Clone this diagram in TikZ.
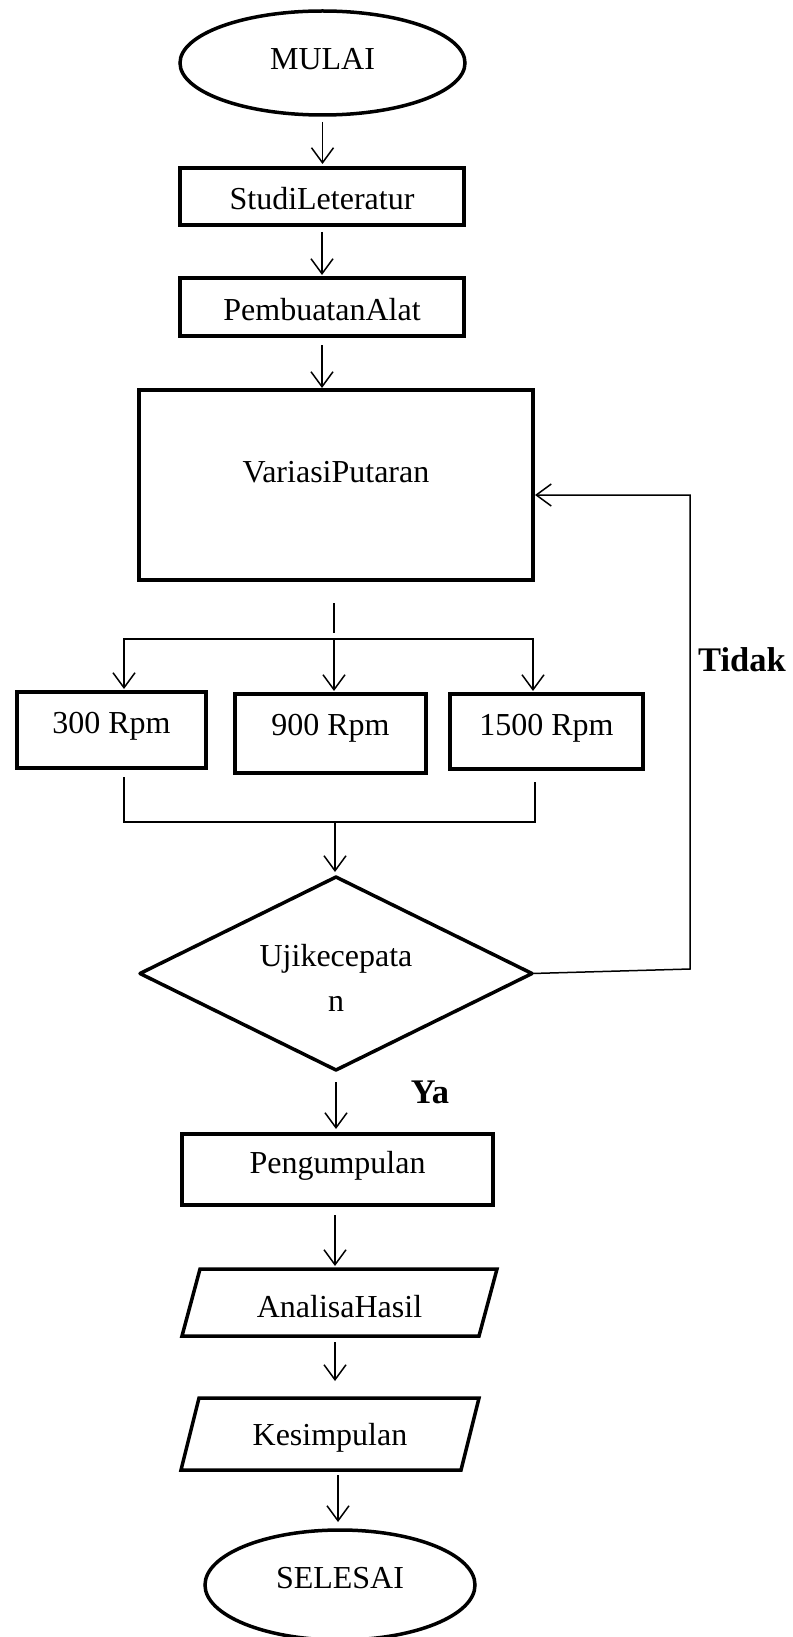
\documentclass[tikz,border=0pt]{standalone}
\usepackage{fontspec}
\setmainfont{Liberation Serif}
\usetikzlibrary{shapes.geometric,arrows.meta}
\begin{document}
\begin{tikzpicture}[x=1pt,y=-1pt,
  every node/.style={font=\fontsize{32pt}{45pt}\selectfont, inner sep=0pt, outer sep=0pt},
  flowbox/.style={draw, line width=3.5pt, rectangle, text height=22pt, text depth=2pt},
  term/.style={draw, line width=3.5pt, ellipse, text height=22pt, text depth=2pt},
  dec/.style={draw, line width=3.5pt, diamond, aspect=2, line join=round},
  iobox/.style={rectangle, text height=22pt, text depth=2pt},
  para/.style={line width=3.5pt},
  conn/.style={line width=1.5pt},
  arr/.style={conn, -{Straight Barb[length=15pt,width=22pt]}},
  arrtwo/.style={conn, {Straight Barb[length=15pt,width=22pt]}-{Straight Barb[length=15pt,width=22pt]}},
  lbl/.style={font=\fontsize{34.5pt}{40pt}\selectfont\bfseries}
]
\useasboundingbox (0,0) rectangle (792,1637);

% shapes
\node[term, minimum width=285pt, minimum height=104pt, text depth=8pt] (mulai) at (322.5,63) {MULAI};
\node[flowbox, minimum width=284pt, minimum height=57pt, text height=29pt] (studi) at (322,196.5) {StudiLeteratur};
\node[flowbox, minimum width=284pt, minimum height=58pt, text height=28pt] (buat) at (322,307) {PembuatanAlat};
\node[flowbox, minimum width=394pt, minimum height=190pt, text depth=28pt] (variasi) at (336,485) {VariasiPutaran};
\node[flowbox, minimum width=189pt, minimum height=76pt, text depth=16pt] (r300) at (111.5,730) {300 Rpm};
\node[flowbox, minimum width=191pt, minimum height=79pt, text depth=19pt] (r900) at (330.5,733.5) {900 Rpm};
\node[flowbox, minimum width=193pt, minimum height=75pt, text depth=15pt] (r1500) at (546.5,731.5) {1500 Rpm};
\node[dec, minimum width=392pt, minimum height=193pt] (uji) at (336,973.5) {};
\node[align=center] (ujitext) at ([yshift=-4pt]uji.center) {Ujikecepata\\n};
\node[flowbox, minimum width=311pt, minimum height=71pt, text depth=14pt] (kumpul) at (337.5,1169.5) {Pengumpulan};
\node[iobox, minimum width=297pt, minimum height=67pt, text height=31pt] (analisa) at (339.5,1302.5) {AnalisaHasil};
\draw[para] ([xshift=9pt]analisa.north west) -- ([xshift=9pt]analisa.north east) -- ([xshift=-9pt]analisa.south east) -- ([xshift=-9pt]analisa.south west) -- cycle;
\node[iobox, minimum width=280pt, minimum height=72pt, text height=24pt] (simpul) at (330,1434) {Kesimpulan};
\draw[para] ([xshift=9pt]simpul.north west) -- ([xshift=9pt]simpul.north east) -- ([xshift=-9pt]simpul.south east) -- ([xshift=-9pt]simpul.south west) -- cycle;
\node[term, minimum width=270pt, minimum height=110pt, text depth=16pt] (selesai) at (340,1585) {SELESAI};

% labels
\node[lbl] (tidak) at (742,660) {Tidak};
\node[lbl] (ya) at (430,1092) {Ya};

% helper coordinates
\coordinate (br1) at (334,603);
\coordinate (br2) at (334,633);
\coordinate (hl) at (124,639);
\coordinate (hm) at (334,639);
\coordinate (hr) at (533,639);
\coordinate (ml) at (124,822);
\coordinate (mm) at (335,822);
\coordinate (mr) at (535,822);
\coordinate (fb1) at (690,969);
\coordinate (fb2) at (690,495);

% connectors
\draw[arr, shorten <=7pt, shorten >=4pt] (mulai.south) -- (mulai.south |- studi.north);
\draw[arr, shorten <=7pt, shorten >=3pt] (studi.south) -- (studi.south |- buat.north);
\draw[arr, shorten <=9pt, shorten >=2pt] (buat.south) -- (buat.south |- variasi.north);
\draw[conn] (br1) -- (br2);
\draw[arrtwo, shorten <=3pt, shorten >=3pt] (hl |- r300.north) -- (hl) -- (hr) -- (hr |- r1500.north);
\draw[arr, shorten >=3pt] (hm) -- (hm |- r900.north);
\draw[conn, shorten <=9pt, shorten >=13pt] (ml |- r300.south) -- (ml) -- (mr) -- (mr |- r1500.south);
\draw[arr, shorten >=5pt] (mm) -- (mm |- uji.north);
\draw[arr, shorten >=2pt] (uji.east) -- (fb1) -- (fb2) -- (fb2 -| variasi.east);
\draw[arr, shorten <=12pt, shorten >=5pt] (uji.south) -- (uji.south |- kumpul.north);
\draw[arr, shorten <=10pt, shorten >=3pt] ([xshift=-2.5pt]kumpul.south) -- ([xshift=-2.5pt]kumpul.south |- analisa.north);
\draw[arr, shorten <=6pt, shorten >=17pt] ([xshift=-4.5pt]analisa.south) -- ([xshift=-4.5pt]analisa.south |- simpul.north);
\draw[arr, shorten <=5pt, shorten >=8pt] ([xshift=-2pt]selesai.north |- simpul.south) -- ([xshift=-2pt]selesai.north);
\end{tikzpicture}
\end{document}
